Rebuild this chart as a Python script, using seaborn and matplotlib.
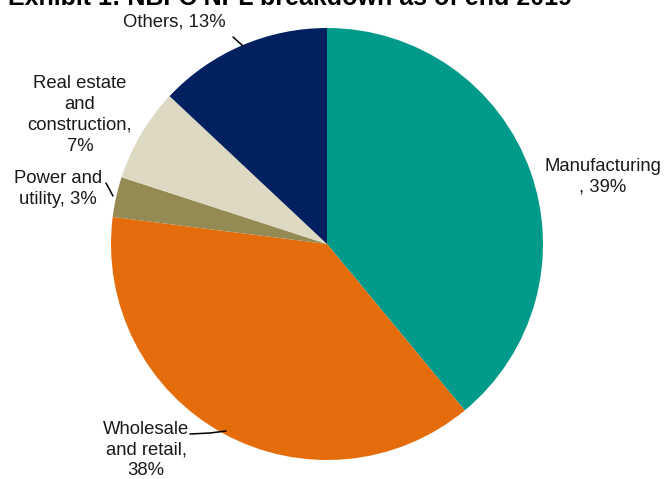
import matplotlib
matplotlib.use("Agg")
import matplotlib.pyplot as plt
import seaborn as sns

# Sector shares of the portfolio (clockwise from 12 o'clock)
sectors = ["Manufacturing", "Wholesale and retail", "Power and utility",
           "Real estate and construction", "Others"]
shares = [39, 38, 3, 7, 13]
label_texts = ["Manufacturing\n, 39%", "Wholesale\nand retail,\n38%",
               "Power and\nutility, 3%", "Real estate\nand\nconstruction,\n7%",
               "Others, 13%"]
colors_hex = ["#009A8A", "#E46C0A", "#948A54", "#DDD9C3", "#002060"]

title = "Exhibit 1: NBFC NPL breakdown as of end 2019"

sns.set_theme(style="white")
plt.rcParams["font.family"] = ["Liberation Sans", "DejaVu Sans"]

W, H = 664, 479
fig = plt.figure(figsize=(W / 100, H / 100), dpi=100)
ax = fig.add_axes([0, 0, 1, 1])

palette = sns.color_palette(colors_hex)
cx, cy, r = 327, H - 244, 216
ax.pie(shares, colors=palette, startangle=90, counterclock=False,
       center=(cx, cy), radius=r, frame=True,
       wedgeprops=dict(linewidth=0))
ax.set_xlim(0, W)
ax.set_ylim(0, H)
ax.set_aspect("equal")
ax.axis("off")

fs = 13.3
label_pos = [(603, H - 177), (146, H - 450), (58, H - 189), (80, H - 115), (174, H - 22)]
for txt, (x, y) in zip(label_texts, label_pos):
    ax.text(x, y, txt, ha="center", va="center", fontsize=fs,
            color="#1a1a1a", linespacing=1.3)

# leader lines
ax.plot([233, 243], [H - 37, H - 46], color="black", lw=1.1)
ax.plot([106, 113], [H - 183, H - 196], color="black", lw=1.1)
ax.plot([190, 210, 226], [H - 434, H - 433, H - 431], color="black", lw=1.1)

ax.text(8, H - 5, title, ha="left", va="baseline", fontsize=18,
        fontweight="bold", color="black")

fig.savefig("out.png", dpi=100)
